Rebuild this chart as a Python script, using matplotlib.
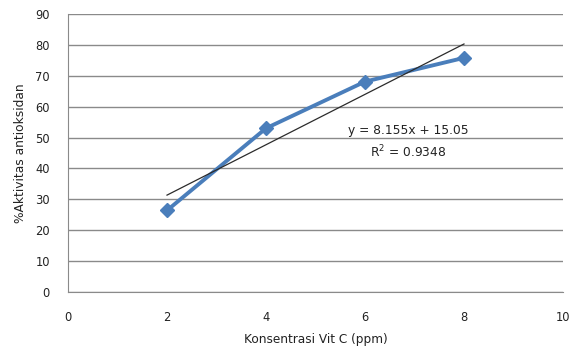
import matplotlib
matplotlib.use("Agg")
import matplotlib.pyplot as plt
import numpy as np

# Vitamin C concentration (ppm) and measured antioxidant activity (%)
konsentrasi = [2, 4, 6, 8]
aktivitas = [26.4, 53.0, 68.1, 75.8]

# Linear trendline coefficients and fit quality
slope = 8.155
intercept = 15.05
r_squared = 0.9348

x_ticks = [0, 2, 4, 6, 8, 10]
y_ticks = [0, 10, 20, 30, 40, 50, 60, 70, 80, 90]

plt.rcParams['font.family'] = ['DejaVu Sans']

fig = plt.figure(figsize=(5.73, 3.56), dpi=100)
ax = fig.add_axes([0.1187, 0.1798, 0.8638, 0.7809])

ax.set_xlim(0, 10)
ax.set_ylim(0, 90)
ax.set_xticks(x_ticks)
ax.set_yticks(y_ticks)

grid_color = '#8a8a8a'
ax.grid(axis='y', color=grid_color, linewidth=1.0)
ax.set_axisbelow(True)
for side in ('top', 'right'):
    ax.spines[side].set_visible(False)
ax.spines['left'].set_color(grid_color)
ax.spines['bottom'].set_color(grid_color)
ax.tick_params(length=0, labelsize=8.3, colors='#222222')
ax.tick_params(axis='y', pad=13)
ax.tick_params(axis='x', pad=14)

ax.plot(konsentrasi, aktivitas, color='#4a7ebb', linewidth=2.8,
        marker='D', markersize=7, markeredgecolor='#4a7ebb',
        markerfacecolor='#4a7ebb', zorder=3)

xs = np.array([konsentrasi[0], konsentrasi[-1]])
ax.plot(xs, slope * xs + intercept, color='#2b2b2b', linewidth=0.9, zorder=4)

ax.text(6.87, 52.4, f"y = {slope}x + {intercept}", ha='center', va='center',
        fontsize=8.8, color='#222222')
ax.text(6.87, 45.3, f"R$^2$ = {r_squared}", ha='center', va='center',
        fontsize=8.8, color='#222222')

ax.set_xlabel("Konsentrasi Vit C (ppm)", fontsize=8.7, color='#222222', labelpad=6)
ax.set_ylabel("%Aktivitas antioksidan", fontsize=8.8, color='#222222', labelpad=6)

fig.savefig("out.png", dpi=100, facecolor='white')
